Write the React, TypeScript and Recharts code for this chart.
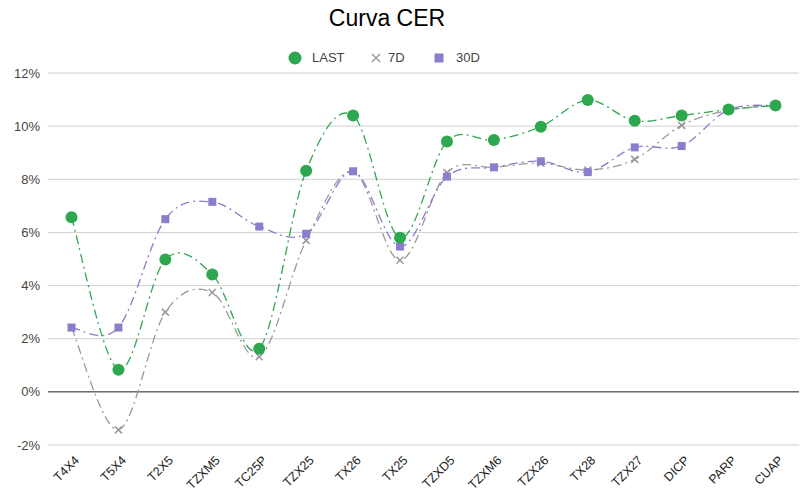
import React from "react";
import { LineChart, Line, XAxis, YAxis, CartesianGrid, ReferenceLine } from "recharts";

const categories = ["T4X4", "T5X4", "T2X5", "TZXM5", "TC25P", "TZX25", "TX26", "TX25", "TZXD5", "TZXM6", "TZX26", "TX28", "TZX27", "DICP", "PARP", "CUAP"];
const lastValues = [6.57, 0.83, 4.98, 4.42, 1.62, 8.32, 10.4, 5.8, 9.42, 9.48, 9.98, 10.98, 10.2, 10.4, 10.63, 10.78];
const d7Values = [2.42, -1.43, 3.0, 3.74, 1.32, 5.7, 8.3, 4.95, 8.25, 8.45, 8.6, 8.35, 8.75, 10.03, 10.6, 10.78];
const d30Values = [2.42, 2.42, 6.5, 7.15, 6.22, 5.95, 8.3, 5.47, 8.1, 8.45, 8.68, 8.27, 9.2, 9.25, 10.62, 10.78];
const yTicks = [-2, 0, 2, 4, 6, 8, 10, 12];

const data = categories.map((c, i) => ({ name: c, last: lastValues[i], d7: d7Values[i], d30: d30Values[i] }));

const GREEN = "#2ea84f";
const GRAY = "#9a9a9a";
const PURPLE = "#8e7ccc";
const FONT = "'Liberation Sans', Arial, sans-serif";

function catmullRom(context: any) {
  let pts: number[][] = [];
  return {
    areaStart() {},
    areaEnd() {},
    lineStart() { pts = []; },
    point(x: number, y: number) { pts.push([+x, +y]); },
    lineEnd() {
      if (!pts.length) return;
      context.moveTo(pts[0][0], pts[0][1]);
      for (let i = 0; i < pts.length - 1; i++) {
        const p0 = pts[i - 1] || pts[i];
        const p1 = pts[i];
        const p2 = pts[i + 1];
        const p3 = pts[i + 2] || p2;
        const c1x = p1[0] + (p2[0] - p0[0]) / 6;
        const c1y = p1[1] + (p2[1] - p0[1]) / 6;
        const c2x = p2[0] - (p3[0] - p1[0]) / 6;
        const c2y = p2[1] - (p3[1] - p1[1]) / 6;
        context.bezierCurveTo(c1x, c1y, c2x, c2y, p2[0], p2[1]);
      }
    },
  };
}

const CircleDot = (props: any) => {
  const { cx, cy, index } = props;
  return <circle key={`c${index}`} cx={cx} cy={cy} r={6} fill={GREEN} />;
};
const CrossDot = (props: any) => {
  const { cx, cy, index } = props;
  const s = 3.5;
  return (
    <g key={`x${index}`}>
      <line x1={cx - s} y1={cy - s} x2={cx + s} y2={cy + s} stroke={GRAY} strokeWidth={1.5} />
      <line x1={cx - s} y1={cy + s} x2={cx + s} y2={cy - s} stroke={GRAY} strokeWidth={1.5} />
    </g>
  );
};
const SquareDot = (props: any) => {
  const { cx, cy, index } = props;
  return <rect key={`s${index}`} x={cx - 4} y={cy - 4} width={8} height={8} fill={PURPLE} />;
};

const XTick = (props: any) => {
  const { x, y, payload } = props;
  const ax = x + 8.5;
  const ay = y + 8;
  return (
    <text x={ax} y={ay} transform={`rotate(-45, ${ax}, ${ay})`} textAnchor="end" fontSize={12.5} fill="#222" fontFamily={FONT}>
      {payload.value}
    </text>
  );
};

const legendText: React.CSSProperties = { position: "absolute", top: 50, fontFamily: FONT, fontSize: 13, color: "#444", lineHeight: "16px" };

const Legend = () => (
  <div style={{ position: "absolute", left: 0, top: 0, width: 809, height: 80 }}>
    <svg width={809} height={80} style={{ position: "absolute", left: 0, top: 0 }}>
      <circle cx={295} cy={58} r={6.5} fill={GREEN} />
      <line x1={372} y1={54} x2={380} y2={62} stroke={GRAY} strokeWidth={1.5} />
      <line x1={372} y1={62} x2={380} y2={54} stroke={GRAY} strokeWidth={1.5} />
      <rect x={434.5} y={53.5} width={9} height={9} fill={PURPLE} />
    </svg>
    <span style={{ ...legendText, left: 312 }}>LAST</span>
    <span style={{ ...legendText, left: 388 }}>7D</span>
    <span style={{ ...legendText, left: 456 }}>30D</span>
  </div>
);

export default function App() {
  const dash = "9 4 2 4";
  return (
    <div style={{ position: "absolute", left: 0, top: 0, width: 809, height: 491, background: "#fff" }}>
      <div style={{ position: "absolute", left: 0, top: 5, width: 774, textAlign: "center", fontFamily: FONT, fontSize: 23, color: "#000", lineHeight: "26px" }}>Curva CER</div>
      <Legend />
      <div style={{ position: "absolute", left: 0, top: 0 }}>
        <LineChart width={809} height={491} data={data} margin={{ top: 73, right: 10, bottom: 0, left: 8 }}>
          <CartesianGrid vertical={false} stroke="#d0d0d0" />
          <XAxis dataKey="name" axisLine={false} tickLine={false} height={46} interval={0} padding={{ left: 23.5, right: 23.5 }} tick={<XTick />} />
          <YAxis domain={[-2, 12]} ticks={yTicks} width={40} axisLine={false} tickLine={false} tickFormatter={(v: number) => `${v}%`} tick={{ fontSize: 13, fill: "#444", fontFamily: FONT }} />
          <ReferenceLine y={0} stroke="#333" strokeWidth={1} />
          <Line dataKey="d7" type={catmullRom as any} stroke={GRAY} strokeWidth={1.3} strokeDasharray={dash} dot={<CrossDot />} isAnimationActive={false} />
          <Line dataKey="d30" type={catmullRom as any} stroke={PURPLE} strokeWidth={1.3} strokeDasharray={dash} dot={<SquareDot />} isAnimationActive={false} />
          <Line dataKey="last" type={catmullRom as any} stroke={GREEN} strokeWidth={1.3} strokeDasharray={dash} dot={<CircleDot />} isAnimationActive={false} />
        </LineChart>
      </div>
    </div>
  );
}
